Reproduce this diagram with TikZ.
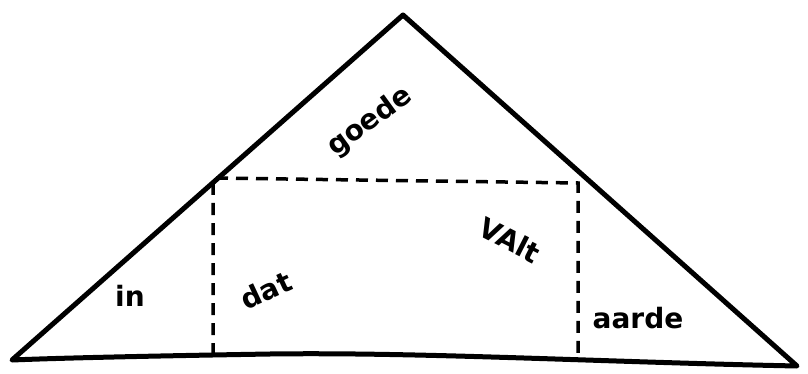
\documentclass[tikz,border=0pt]{standalone}
\usepackage{fontspec}
\setmainfont{DejaVu Sans}
\begin{document}
\begin{tikzpicture}[x=1pt,y=-1pt,
  outline/.style={line width=5pt,line join=round,line cap=round},
  dashline/.style={line width=3.5pt,dash pattern=on 12pt off 8pt},
  word/.style={font=\fontsize{28}{30}\selectfont\bfseries,inner sep=0pt}]
\useasboundingbox (0,0) rectangle (808,374);
\coordinate (L) at (12,360);
\coordinate (T) at (403,15);
\coordinate (R) at (797,366);
\coordinate (A) at (213,178);
\coordinate (B) at (578,183);
\coordinate (Ab) at (213,355);
\coordinate (Bb) at (578,360);
\draw[outline] (L) -- (T) -- (R) .. controls (600,362) and (420,352) .. (270,354) .. controls (150,356) and (60,358) .. (L) -- cycle;
\draw[dashline] (Ab) -- (A) -- (B) -- (Bb);
\node[word,rotate=36] (goede) at (370,122) {goede};
\node[word] (in) at (130,296) {in};
\node[word,rotate=25] (dat) at (266,290) {dat};
\node[word,rotate=-27] (valt) at (510,240) {VAlt};
\node[word] (aarde) at (638,318) {aarde};
\end{tikzpicture}
\end{document}
